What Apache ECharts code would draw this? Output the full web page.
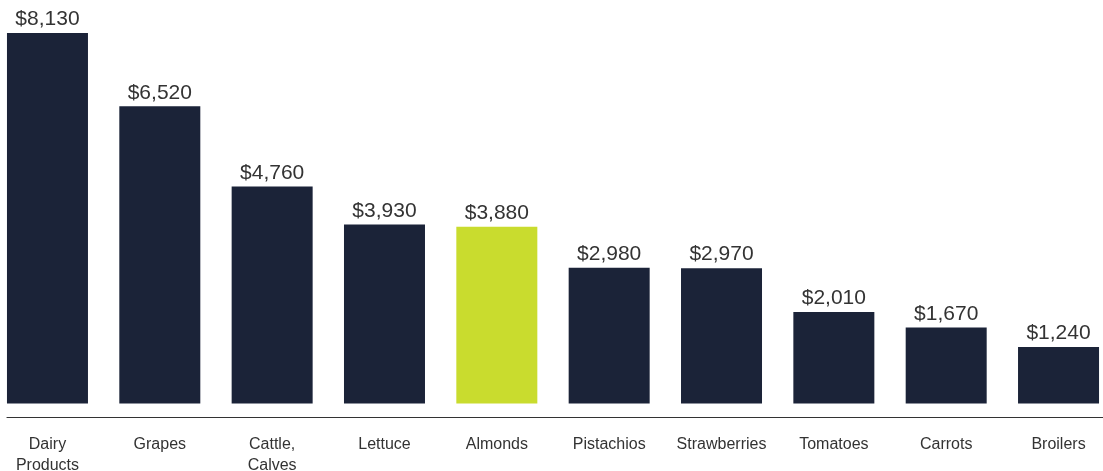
<!DOCTYPE html>
<html>
<head>
<meta charset="utf-8">
<script src="https://cdn.jsdelivr.net/npm/echarts@6/dist/echarts.min.js"></script>
<style>
  html, body { margin: 0; padding: 0; background: #fff; }
  #main { width: 1103px; height: 471px; }
</style>
</head>
<body>
<div id="main"></div>
<script>
// categories and values (millions of dollars)
const categories = ['Dairy\nProducts', 'Grapes', 'Cattle,\nCalves', 'Lettuce', 'Almonds',
  'Pistachios', 'Strawberries', 'Tomatoes', 'Carrots', 'Broilers'];
const values = [8130, 6520, 4760, 3930, 3880, 2980, 2970, 2010, 1670, 1240];
const highlight = 'Almonds';

const navy = '#1b2338';
const lime = '#c9dc2e';

const myChart = echarts.init(document.getElementById('main'));

myChart.setOption({
  animation: false,
  grid: [
    // bars
    { left: -8.7, right: -11.7, top: 33, bottom: 67.5, outerBoundsMode: 'none', containLabel: false },
    // baseline rule under the bars
    { left: 7, right: 0, top: 417, height: 0, outerBoundsMode: 'none' }
  ],
  xAxis: [
    {
      type: 'category',
      data: categories,
      gridIndex: 0,
      axisLine: { show: false },
      axisTick: { show: false },
      axisLabel: {
        interval: 0,
        margin: 31,
        color: '#333',
        fontFamily: 'Liberation Sans',
        fontSize: 16,
        lineHeight: 21,
        verticalAlign: 'top'
      }
    },
    {
      type: 'category',
      gridIndex: 1,
      data: [''],
      axisLine: { show: true, lineStyle: { color: '#333', width: 1.2 } },
      axisTick: { show: false },
      axisLabel: { show: false }
    }
  ],
  yAxis: [
    { type: 'value', gridIndex: 0, min: 0, max: 8130, show: false },
    { type: 'value', gridIndex: 1, show: false }
  ],
  series: [
    {
      type: 'bar',
      xAxisIndex: 0,
      yAxisIndex: 0,
      barWidth: 81,
      data: values.map((v, i) => ({
        value: v,
        itemStyle: { color: categories[i] === highlight ? lime : navy }
      })),
      label: {
        show: true,
        position: 'top',
        distance: 3,
        color: '#333',
        fontFamily: 'Liberation Sans',
        fontSize: 21,
        formatter: p => '$' + p.value.toLocaleString('en-US')
      }
    }
  ]
});
</script>
</body>
</html>
